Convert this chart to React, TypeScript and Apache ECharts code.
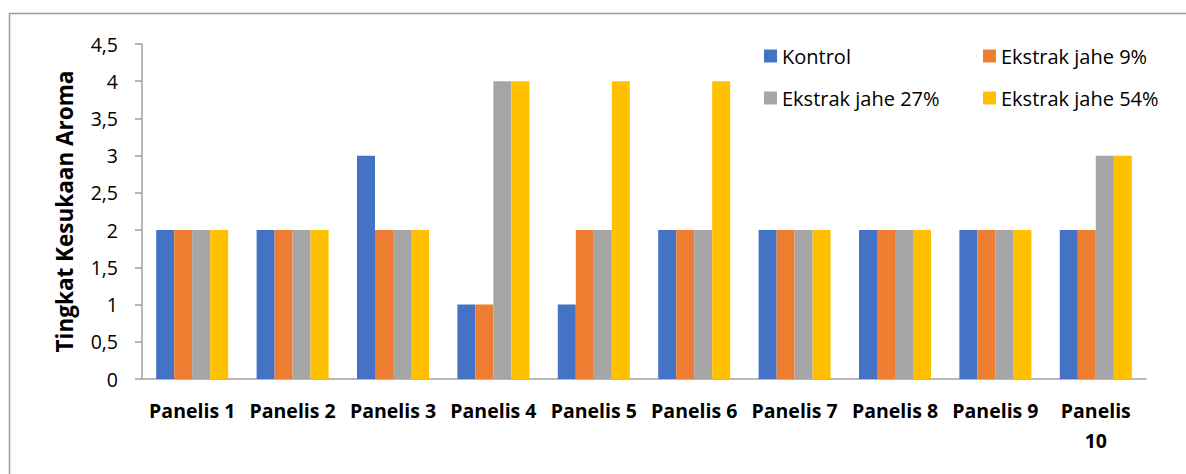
import React, { useEffect, useRef } from "react";
import * as echarts from "echarts";

const categories = [
  "Panelis 1", "Panelis 2", "Panelis 3", "Panelis 4", "Panelis 5",
  "Panelis 6", "Panelis 7", "Panelis 8", "Panelis 9", "Panelis 10",
];
const kontrol = [2, 2, 3, 1, 1, 2, 2, 2, 2, 2];
const jahe9 = [2, 2, 2, 1, 2, 2, 2, 2, 2, 2];
const jahe27 = [2, 2, 2, 4, 2, 2, 2, 2, 2, 3];
const jahe54 = [2, 2, 2, 4, 4, 4, 2, 2, 2, 3];

const seriesNames = ["Kontrol", "Ekstrak jahe 9%", "Ekstrak jahe 27%", "Ekstrak jahe 54%"];
const seriesData = [kontrol, jahe9, jahe27, jahe54];
const colors = ["#4472C4", "#ED7D31", "#A5A5A5", "#FFC000"];

const FONT = "'Open Sans', sans-serif";

export default function App() {
  const ref = useRef<HTMLDivElement>(null);
  useEffect(() => {
    if (!ref.current) return;
    const chart = echarts.init(ref.current, null, { renderer: "svg" });
    const legendCommon = {
      orient: "vertical" as const,
      itemWidth: 13,
      itemHeight: 13,
      itemGap: 22,
      padding: 0,
      icon: "rect",
      textStyle: { fontFamily: FONT, fontSize: 20, color: "#000", lineHeight: 20 },
      selectedMode: false,
      top: 46,
    };
    chart.setOption({
      animation: false,
      backgroundColor: "#fff",
      color: colors,
      graphic: [
        {
          type: "rect",
          shape: { x: 9.5, y: 13.5, width: 1200, height: 500 },
          style: { fill: "none", stroke: "#9a9a9a", lineWidth: 1.5 },
          silent: true,
        },
      ],
      legend: [
        { ...legendCommon, left: 764, data: [seriesNames[0], seriesNames[2]] },
        { ...legendCommon, left: 983, data: [seriesNames[1], seriesNames[3]] },
      ],
      grid: { left: 142, right: 40, top: 44, bottom: 95 },
      xAxis: {
        type: "category",
        data: categories,
        axisLine: { lineStyle: { color: "#a0a0a0", width: 1.5 } },
        axisTick: { length: 7, lineStyle: { color: "#a0a0a0", width: 1.5 } },
        axisLabel: {
          interval: 0,
          margin: 16,
          fontFamily: FONT,
          fontSize: 19.5,
          fontWeight: "bold",
          color: "#000",
          lineHeight: 30,
          formatter: (v: string) => (v.length > 9 ? v.replace(" ", "\n") : v),
        },
      },
      yAxis: {
        type: "value",
        min: 0,
        max: 4.5,
        interval: 0.5,
        name: "Tingkat Kesukaan Aroma",
        nameLocation: "middle",
        nameGap: 66,
        nameTextStyle: { fontFamily: FONT, fontSize: 22.5, fontWeight: "bold", color: "#000" },
        axisLine: { show: true, lineStyle: { color: "#a0a0a0", width: 1.5 } },
        axisTick: { show: true, length: 7, lineStyle: { color: "#a0a0a0", width: 1.5 } },
        splitLine: { show: false },
        axisLabel: {
          margin: 24,
          fontFamily: FONT,
          fontSize: 19.5,
          color: "#000",
          formatter: (v: number) => String(v).replace(".", ","),
        },
      },
      series: seriesNames.map((name, i) => ({
        name,
        type: "bar",
        data: seriesData[i],
        barWidth: 18,
        barGap: "0%",
        itemStyle: { color: colors[i] },
      })),
    });
    return () => chart.dispose();
  }, []);
  return (
    <div
      ref={ref}
      style={{ position: "fixed", left: 0, top: 0, width: 1186, height: 474 }}
    />
  );
}
